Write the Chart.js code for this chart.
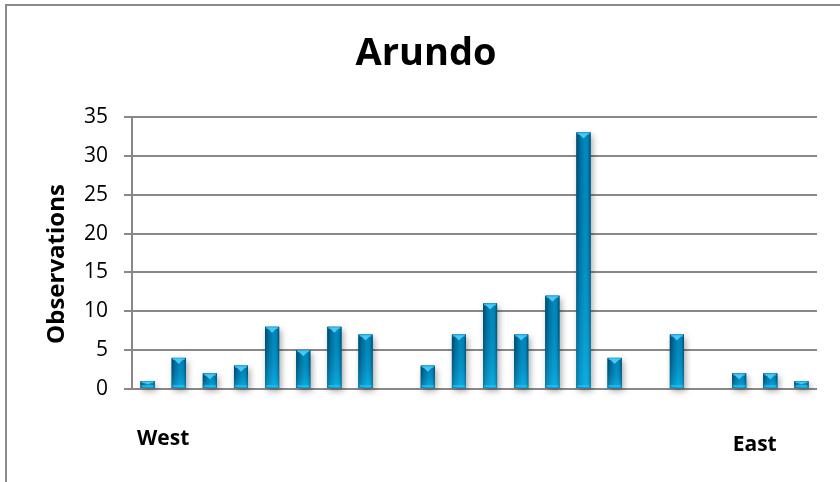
<!DOCTYPE html>
<html>
<head>
<meta charset="utf-8">
<script src="https://cdn.jsdelivr.net/npm/chart.js@4"></script>
<style>
  html, body { margin: 0; padding: 0; background: #fff; }
  #wrap { width: 840px; height: 482px; }
</style>
</head>
<body>
<div id="wrap"><canvas id="arundo" width="840" height="482"></canvas></div>
<script>
// data
var sites = ["1", "2", "3", "4", "5", "6", "7", "8", "9", "10", "11",
  "12", "13", "14", "15", "16", "17", "18", "19", "20", "21", "22"];
var observations = [1, 4, 2, 3, 8, 5, 8, 7, 0, 3, 7, 11, 7, 12, 33, 4, 0, 7, 0, 2, 2, 1];
var yTicks = [0, 5, 10, 15, 20, 25, 30, 35];
var chartTitle = "Arundo";
var yTitle = "Observations";
var westLabel = "West";
var eastLabel = "East";

var FONT = "'Open Sans', 'DejaVu Sans', sans-serif";

// frame + title + West/East
var decorPlugin = {
  id: "decor",
  beforeDraw: function (chart) {
    var ctx = chart.ctx;
    ctx.save();
    ctx.fillStyle = "#fff";
    ctx.fillRect(0, 0, chart.width, chart.height);
    ctx.strokeStyle = "#8a8a8a";
    ctx.lineWidth = 2;
    ctx.strokeRect(6, 5, chart.width + 10, chart.height + 10);
    ctx.restore();
  },
  afterDraw: function (chart) {
    var ctx = chart.ctx;
    var x = chart.scales.x;
    var y = chart.scales.y;
    ctx.save();
    ctx.fillStyle = "#000";
    ctx.textAlign = "center";
    ctx.textBaseline = "middle";
    ctx.font = "bold 38px " + FONT;
    ctx.fillText(chartTitle, 426, 54);
    // y title, a bit below the middle of the plot like the original
    ctx.save();
    ctx.translate(57, (y.top + y.bottom) / 2 + 11);
    ctx.rotate(-Math.PI / 2);
    ctx.font = "bold 24px " + FONT;
    ctx.fillText(yTitle, 0, 0);
    ctx.restore();
    ctx.font = "bold 21px " + FONT;
    ctx.fillText(westLabel, (x.getPixelForValue(0) + x.getPixelForValue(1)) / 2, 439);
    ctx.fillText(eastLabel, (x.getPixelForValue(19) + x.getPixelForValue(20)) / 2, 445);
    ctx.restore();
  }
};

// glossy cylinder look on top of each bar
var glossPlugin = {
  id: "gloss",
  afterDatasetsDraw: function (chart) {
    var ctx = chart.ctx;
    var meta = chart.getDatasetMeta(0);
    meta.data.forEach(function (bar) {
      var w = bar.width, l = bar.x - w / 2, r = bar.x + w / 2;
      var top = bar.y, base = bar.base, h = base - top;
      if (h < 1) return;
      ctx.save();
      // shadow
      ctx.shadowColor = "rgba(0,0,0,0.35)";
      ctx.shadowBlur = 6;
      ctx.shadowOffsetX = 2;
      ctx.shadowOffsetY = 3;
      ctx.fillStyle = "#007aab";
      ctx.fillRect(l, top, w, h);
      ctx.restore();

      ctx.save();
      var g = ctx.createLinearGradient(l, 0, r, 0);
      g.addColorStop(0, "#004c70");
      g.addColorStop(0.25, "#0077a8");
      g.addColorStop(0.6, "#009ad2");
      g.addColorStop(0.82, "#0090c5");
      g.addColorStop(1, "#005277");
      ctx.fillStyle = g;
      ctx.fillRect(l, top, w, h);
      var v = ctx.createLinearGradient(0, top, 0, base);
      v.addColorStop(0, "rgba(0,30,60,0.12)");
      v.addColorStop(1, "rgba(30,205,255,0.4)");
      ctx.fillStyle = v;
      ctx.fillRect(l, top, w, h);
      // top cap
      var cap = Math.min(6, h / 2);
      ctx.fillStyle = "#2fb4e8";
      ctx.fillRect(l + 1, top, w - 2, Math.min(2, h));
      ctx.beginPath();
      ctx.moveTo(l + 2, top + 1);
      ctx.lineTo(r - 2, top + 1);
      ctx.lineTo(bar.x, top + cap);
      ctx.closePath();
      ctx.fillStyle = "#48c8f5";
      ctx.fill();
      // bottom bevel
      ctx.fillStyle = "rgba(40,190,245,0.7)";
      ctx.fillRect(l + 1, base - 3, w - 2, 2);
      ctx.restore();
    });
  }
};

var chart = new Chart(document.getElementById("arundo").getContext("2d"), {
  type: "bar",
  data: {
    labels: sites,
    datasets: [
      {
        label: "Arundo",
        data: observations,
        backgroundColor: "#0086bf",
        borderWidth: 0,
        barPercentage: 0.45,
        categoryPercentage: 1.0,
      },
    ],
  },
  options: {
    responsive: false,
    animation: false,
    devicePixelRatio: 1,
    layout: { padding: { top: 117, right: 23, left: 0, bottom: 0 } },
    plugins: {
      legend: { display: false },
      tooltip: { enabled: false },
      title: { display: false },
    },
    scales: {
      x: {
        ticks: { display: false },
        grid: { display: false },
        border: { display: false },
        afterFit: function (scale) { scale.height = 93; },
      },
      y: {
        min: 0,
        max: 35,
        afterBuildTicks: function (scale) {
          scale.ticks = yTicks.map(function (v) { return { value: v }; });
        },
        ticks: {
          color: "#000",
          padding: 16,
          font: { family: FONT, size: 21 },
        },
        grid: {
          color: "#888",
          lineWidth: 2,
          drawTicks: true,
          tickLength: 8,
          tickColor: "#888",
        },
        border: { display: true, color: "#888", width: 2 },
        afterFit: function (scale) { scale.width = 132; },
      },
    },
  },
  plugins: [decorPlugin, glossPlugin],
});
</script>
</body>
</html>
